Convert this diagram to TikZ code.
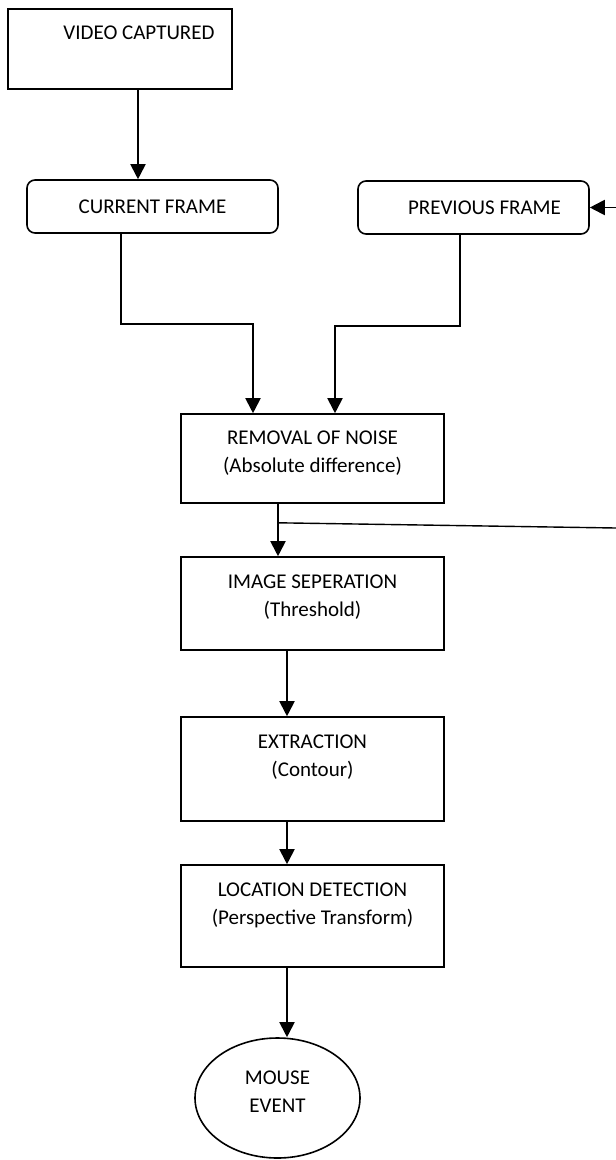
\documentclass[tikz,border=0pt]{standalone}
\usepackage{fontspec}
\setmainfont{Carlito}
\usetikzlibrary{arrows.meta, positioning, calc, shapes.geometric}
\newcommand{\flowfont}{\fontsize{21}{28}\selectfont}
\tikzset{
  stepbox/.style={rectangle, draw, line width=1.6pt, inner sep=0pt,
    align=center, font=\flowfont,
    execute at begin node={\spaceskip=\fontdimen2\font\xspaceskip=\fontdimen2\font\relax}},
  topbox/.style={stepbox, text height=31pt, minimum width=263pt,
    text width=263pt},
  framebox/.style={stepbox, rounded corners=8pt, minimum height=53pt},
  endnode/.style={ellipse, draw, line width=1.6pt, inner sep=0pt,
    align=center, font=\flowfont, minimum width=165pt, minimum height=120pt},
  arrow/.style={-{Triangle[length=15pt,width=15pt]}, line width=1.9pt},
  feedline/.style={line width=1.4pt},
}

\begin{document}
\begin{tikzpicture}[x=1pt, y=-1pt]
  \useasboundingbox (0,0) rectangle (616,1160);

  \node[stepbox, text width=224pt, text height=30.5pt, text depth=49.5pt]
    (video) at (120,49) {\hspace*{38pt}VIDEO CAPTURED};

  \node[framebox, minimum width=251pt] (current) at (152.5,206.5) {CURRENT FRAME};
  \node[framebox, minimum width=231pt] (previous) at (473.5,207.5)
    {\hspace*{22pt}PREVIOUS FRAME};

  \node[topbox, text height=30.5pt, text depth=58.5pt] (removal) at (312.5,458.5)
    {REMOVAL OF NOISE\\(Absolute difference)};
  \node[topbox, text depth=62pt] (imgsep) at (312.5,603.5)
    {IMAGE SEPERATION\\(Threshold)};
  \node[topbox, text depth=73pt] (extract) at (312.5,769)
    {EXTRACTION\\(Contour)};
  \node[topbox, text depth=71pt] (locate) at (312.5,916)
    {LOCATION DETECTION\\(Perspective Transform)};

  \node[endnode, text height=41pt, text depth=13pt] (mouse) at (277.5,1098)
    {MOUSE\\EVENT};

  % feedback loop ends at the page edge
  \coordinate (tap) at ([xshift=-34.5pt, yshift=-19pt]removal.south);
  \coordinate (loopout) at (616,528);
  \coordinate (loopin) at (616,207.5);

  \draw[arrow] ([xshift=18pt]video.south) -- ([xshift=18pt]video.south |- current.north);
  \draw[arrow] ([xshift=-31.5pt]current.south) -- ++(0,90) -| ([xshift=-59.5pt]removal.north);
  \draw[arrow] ([xshift=-13.5pt]previous.south) -- ++(0,91) -| ([xshift=22.5pt]removal.north);
  \draw[arrow] ([xshift=-34.5pt]removal.south) -- ([xshift=-34.5pt]imgsep.north);
  \draw[feedline] (tap) -- (loopout);
  \draw[arrow] (loopin) -- (previous.east);
  \draw[arrow] ([xshift=-25.5pt]imgsep.south) -- ([xshift=-25.5pt]extract.north);
  \draw[arrow] ([xshift=-25.5pt]extract.south) -- ([xshift=-25.5pt]locate.north);
  \draw[arrow] ([xshift=-25.5pt]locate.south) -- ([xshift=-25.5pt]locate.south |- mouse.north);
\end{tikzpicture}
\end{document}
